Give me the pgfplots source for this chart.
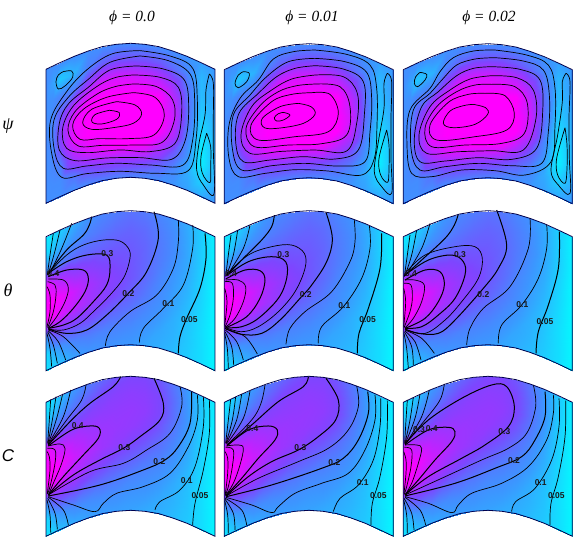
\documentclass[border=0pt]{standalone}
\usepackage{fontspec}
\setmainfont{Liberation Serif}
\newfontfamily\lab{Liberation Sans}
\usepackage{pgfplots}
\usepackage{pgfplotstable}
\pgfplotsset{compat=1.18}

% colour fields on the curved grid (p = psi, t = theta, c = C)
\pgfplotstableread{
x y p t c
0 0 .27 .05 .05
0 50 .27 .08 .10
0 100 .27 .25 .25
0 150 .27 1 1
0 201 .27 1 1
0 251 .27 1 1
0 301 .27 .25 .25
0 352 .27 .08 .08
0 402 .27 .05 .05
21 -10 .27 .08 .10
21 40 .22 .15 .18
21 90 .27 .30 .35
21 140 .30 .80 .85
21 191 .32 1 1
21 241 .30 .95 .95
21 291 .30 .45 .45
21 342 .28 .20 .20
21 392 .27 .10 .10
42 -20 .27 .12 .15
42 30 .13 .20 .25
42 80 .30 .33 .42
42 130 .42 .70 .75
42 181 .55 .95 .95
42 231 .50 .85 .85
42 281 .33 .50 .50
42 332 .28 .25 .25
42 382 .27 .15 .15
85 -39 .27 .20 .25
85 11 .18 .27 .35
85 61 .33 .38 .50
85 111 .72 .60 .70
85 162 .95 .80 .80
85 212 .92 .75 .70
85 262 .68 .50 .48
85 313 .36 .30 .28
85 363 .27 .22 .20
127 -55 .27 .26 .33
127 -5 .32 .32 .43
127 45 .60 .40 .55
127 95 .95 .55 .65
127 146 1 .66 .70
127 196 1 .64 .60
127 246 .85 .48 .42
127 297 .48 .32 .28
127 347 .28 .25 .22
169 -68 .28 .30 .40
169 -18 .42 .35 .50
169 32 .80 .41 .57
169 82 1 .50 .62
169 133 1 .58 .62
169 183 1 .55 .52
169 233 .95 .43 .38
169 284 .55 .31 .28
169 334 .30 .26 .23
211 -75 .28 .33 .46
211 -25 .48 .38 .54
211 25 .85 .43 .58
211 75 1 .48 .60
211 126 1 .52 .57
211 176 1 .48 .45
211 226 1 .38 .34
211 277 .55 .30 .27
211 327 .30 .25 .23
254 -78 .28 .36 .50
254 -28 .48 .40 .56
254 22 .85 .43 .59
254 72 1 .45 .58
254 123 1 .45 .50
254 173 1 .41 .40
254 223 1 .34 .30
254 274 .55 .28 .25
254 324 .30 .24 .22
296 -75 .28 .34 .50
296 -25 .48 .38 .55
296 25 .82 .40 .57
296 75 1 .40 .53
296 126 1 .38 .44
296 176 1 .34 .34
296 226 .95 .29 .28
296 277 .50 .25 .24
296 327 .28 .21 .20
338 -68 .28 .30 .45
338 -18 .45 .33 .50
338 32 .75 .34 .50
338 82 1 .33 .44
338 133 1 .30 .36
338 183 1 .28 .30
338 233 .72 .25 .25
338 284 .42 .21 .21
338 334 .27 .19 .19
380 -55 .27 .26 .35
380 -5 .38 .28 .38
380 45 .60 .28 .37
380 95 .75 .26 .33
380 146 .80 .24 .28
380 196 .70 .22 .24
380 246 .45 .19 .20
380 297 .30 .18 .18
380 347 .25 .16 .16
423 -39 .25 .20 .24
423 11 .30 .21 .25
423 61 .36 .21 .25
423 111 .38 .20 .22
423 162 .36 .18 .20
423 212 .30 .16 .17
423 262 .25 .14 .15
423 313 .20 .13 .14
423 363 .22 .12 .13
465 -20 .22 .12 .13
465 30 .17 .12 .13
465 80 .16 .12 .12
465 130 .13 .11 .11
465 181 .09 .10 .10
465 231 .05 .09 .09
465 281 .04 .08 .08
465 332 .11 .08 .08
465 382 .20 .08 .08
507 0 .25 .03 .03
507 50 .24 .03 .03
507 100 .22 .03 .03
507 150 .20 .02 .02
507 201 .18 .02 .02
507 251 .17 .02 .02
507 301 .18 .02 .02
507 352 .20 .02 .02
507 402 .25 .02 .02
}\field

\pgfplotstableread{
x y
0 0
21 -10
42 -20
85 -39
127 -55
169 -68
211 -75
254 -78
296 -75
338 -68
380 -55
423 -39
465 -20
507 0
507 402
465 382
423 363
380 347
338 334
296 327
254 324
211 327
169 334
127 347
85 363
42 382
21 392
0 402
0 0
}\outline

\pgfplotsset{
  cl/.style={black,line width=.7pt,smooth,tension=.6},
  cb/.style={black,line width=1pt,smooth,tension=.6},
}
\newcommand{\ct}[1]{\addplot[cl] coordinates {#1};}
\newcommand{\cb}[1]{\addplot[cb] coordinates {#1};}
\newcommand{\lb}[2]{\node[font=\lab\bfseries\fontsize{8.5}{9}\selectfont,inner sep=0pt,text=black!90] at (axis cs:#1) {#2};}

% px, pixel of panel top corner, zoom origin x, y, colour column, contours
\newcommand{\panel}[6]{%
  \pgfmathsetmacro\xb{#3+507}
  \pgfmathsetmacro\ya{#4-78}
  \pgfmathsetmacro\yb{#4+402}
  \pgfmathsetmacro\py{546-#2-134}
  \begin{axis}[
    at={(#1pt,\py pt)}, anchor=south west,
    scale only axis, width=169pt, height=160pt,
    xmin=#3, xmax=\xb, ymin=\ya, ymax=\yb, y dir=reverse,
    hide axis, clip=false,
    colormap={cl}{rgb255=(0,255,255) rgb255=(60,150,255) rgb255=(125,70,255) rgb255=(190,35,255) rgb255=(255,0,255)},
    point meta min=0, point meta max=1,
  ]
  \addplot[surf,shader=interp,mesh/rows=9,mesh/cols=14,mesh/ordering=y varies,point meta=explicit]
    table[x expr=\thisrow{x}+#3,y expr=\thisrow{y}+#4,meta=#5] {\field};
  #6
  \addplot[black!70!blue,line width=.8pt] table[x expr=\thisrow{x}+#3,y expr=\thisrow{y}+#4] {\outline};
  \end{axis}
}

\begin{document}
\begin{tikzpicture}[x=1pt,y=1pt]
\path[use as bounding box] (0,0) rectangle (585,546);
\node[font=\fontsize{15.5}{16}\selectfont\itshape] at (132,528.5) {ϕ = 0.0};
\node[font=\fontsize{15.5}{16}\selectfont\itshape] at (312,528.5) {ϕ = 0.01};
\node[font=\fontsize{15.5}{16}\selectfont\itshape] at (489,528.5) {ϕ = 0.02};
\node[font=\fontsize{18}{18}\selectfont\itshape] at (8,420) {ψ};
\node[font=\fontsize{18}{18}\selectfont\itshape] at (8,256) {θ};
\node[font=\lab\fontsize{17}{18}\selectfont\itshape] at (8,90) {C};

% psi row
\panel{46}{69.3}{138}{208}{p}{
\ct{(420,152)(510,168)(578,205)(592,300)(588,420)(565,512)(470,520)(360,514)(260,521)(185,532)(155,460)(152,360)(200,275)(260,210)(335,162)(420,152)}
\ct{(420,168)(505,182)(570,222)(584,300)(578,420)(548,496)(450,495)(350,490)(260,498)(190,505)(163,450)(162,360)(205,292)(265,238)(330,187)(420,168)}
\ct{(410,198)(490,207)(553,240)(566,320)(556,420)(515,478)(420,473)(320,474)(225,482)(178,450)(178,370)(205,312)(265,262)(330,210)(410,198)}
\ct{(400,225)(480,232)(535,262)(545,340)(525,430)(450,455)(360,450)(260,458)(200,445)(188,385)(220,318)(290,260)(345,233)(400,225)}
\ct{(400,252)(470,260)(518,300)(522,365)(485,428)(400,435)(310,436)(235,438)(204,392)(225,335)(290,283)(345,260)(400,252)}
\ct{(400,278)(465,292)(493,345)(462,405)(385,416)(300,416)(240,418)(218,375)(250,328)(320,292)(400,278)}
\ct{(350,305)(405,315)(425,342)(400,370)(340,383)(275,388)(248,368)(275,328)(350,305)}
\ct{(328,331)(358,338)(350,358)(305,372)(276,366)(285,344)(328,331)}
\ct{(190,215)(215,213)(218,232)(195,258)(175,267)(168,245)(175,225)(190,215)}
\ct{(628,222)(640,250)(640,350)(640,450)(642,582)(610,555)(590,510)(597,430)(615,345)(618,270)(628,222)}
\ct{(620,400)(632,440)(632,500)(630,548)(607,520)(603,470)(620,400)}
}
\panel{224.33}{69.7}{28}{104}{p}{
\ct{(300,45)(395,58)(465,90)(485,160)(486,270)(478,370)(440,420)(340,408)(240,404)(150,415)(70,425)(42,370)(42,270)(75,190)(130,135)(175,72)(235,50)(300,45)}
\ct{(300,70)(390,80)(455,112)(470,190)(465,290)(450,380)(370,393)(270,385)(170,392)(80,405)(52,340)(55,240)(105,180)(155,125)(220,80)(300,70)}
\ct{(300,92)(385,102)(445,140)(448,240)(430,345)(360,372)(265,365)(165,375)(85,380)(62,320)(72,235)(130,175)(185,125)(240,100)(300,92)}
\ct{(300,120)(385,125)(427,175)(425,265)(395,348)(300,345)(200,349)(105,355)(78,300)(110,215)(170,165)(230,132)(300,120)}
\ct{(300,147)(375,155)(405,215)(395,300)(320,326)(220,330)(118,335)(93,280)(135,212)(190,170)(245,152)(300,147)}
\ct{(290,173)(345,178)(370,235)(340,290)(240,305)(130,315)(108,270)(170,200)(230,178)(290,173)}
\ct{(250,205)(288,215)(300,238)(265,265)(195,279)(148,278)(142,250)(195,215)(250,205)}
\ct{(205,232)(225,240)(205,255)(185,258)(178,248)(190,236)(205,232)}
\ct{(85,110)(103,115)(95,140)(70,158)(60,145)(70,120)(85,110)}
\ct{(517,115)(530,140)(528,250)(528,370)(530,475)(500,455)(478,410)(490,320)(507,220)(507,145)(517,115)}
\ct{(515,285)(522,330)(522,400)(518,442)(497,420)(492,370)(515,285)}
}
\panel{403.33}{69.7}{25}{104}{p}{
\ct{(300,45)(395,60)(460,90)(480,160)(480,270)(468,380)(390,420)(300,407)(200,405)(110,425)(50,415)(36,330)(45,225)(105,160)(135,110)(175,68)(235,48)(300,45)}
\ct{(300,68)(385,78)(445,105)(463,180)(460,290)(440,385)(350,392)(250,385)(150,395)(75,405)(48,340)(55,225)(105,175)(145,130)(185,90)(240,72)(300,68)}
\ct{(290,95)(375,103)(435,135)(443,230)(425,340)(350,373)(250,368)(150,378)(75,380)(58,310)(80,215)(130,170)(185,122)(235,100)(290,95)}
\ct{(290,122)(365,128)(415,165)(423,250)(385,345)(290,347)(190,350)(95,355)(72,300)(105,215)(165,165)(225,132)(290,122)}
\ct{(290,148)(360,155)(397,205)(388,295)(320,325)(210,330)(110,335)(90,280)(125,215)(185,170)(240,150)(290,148)}
\ct{(270,175)(330,182)(358,235)(335,285)(240,305)(125,315)(105,270)(160,202)(220,178)(270,175)}
\ct{(235,208)(272,218)(278,238)(240,268)(175,278)(145,265)(165,228)(205,212)(235,208)}
\ct{(75,112)(95,118)(90,135)(68,155)(58,145)(62,125)(75,112)}
\ct{(513,115)(525,140)(522,250)(523,370)(525,475)(490,450)(468,405)(488,300)(502,200)(502,140)(513,115)}
\ct{(510,278)(516,330)(516,400)(510,445)(488,420)(485,370)(510,278)}
}

% theta row
\panel{46}{236.7}{138}{95}{t}{
\ct{(142,210)(150,150)(160,85)}
\ct{(144,210)(163,145)(180,75)}
\ct{(146,210)(183,135)(215,55)}
\cb{(275,35)(268,60)(250,90)(200,135)(145,205)}
\ct{(145,205)(200,150)(250,120)(310,105)(360,108)(388,135)(388,170)(370,220)(330,270)(280,320)(240,355)(190,375)(145,372)}
\cb{(145,205)(200,170)(260,150)(320,150)(330,190)(320,240)(280,290)(230,340)(190,360)(145,370)}
\cb{(462,20)(475,100)(440,200)(385,265)(320,330)(260,375)(200,385)(145,372)}
\ct{(316,423)(330,380)(390,320)(470,270)(520,190)(535,110)(535,45)}
\ct{(418,413)(430,370)(490,310)(550,240)(578,130)(578,60)}
\cb{(535,445)(540,395)(560,340)(600,250)(618,160)(615,85)}
\cb{(145,215)(200,195)(250,195)(265,220)(255,260)(220,310)(180,350)(145,370)}
\ct{(145,222)(190,225)(205,250)(195,290)(170,335)(145,368)}
\ct{(143,230)(165,240)(168,270)(160,320)(143,368)}
\ct{(141,245)(150,270)(150,320)(141,365)}
\ct{(145,375)(190,395)(240,445)}
\ct{(145,378)(175,410)(197,465)}
\ct{(143,380)(160,420)(172,475)}
\ct{(141,385)(150,430)(155,485)}
\lb{322,146}{0.3}\lb{385,266}{0.2}\lb{505,296}{0.1}\lb{568,344}{0.05}\lb{160,207}{0.4}
}
\panel{224.33}{236.7}{28}{95}{t}{
\ct{(32,215)(40,150)(48,90)}
\ct{(34,212)(55,150)(68,75)}
\ct{(36,212)(85,130)(105,60)}
\cb{(178,30)(170,65)(140,105)(85,160)(35,212)}
\ct{(35,208)(100,150)(170,125)(230,120)(268,145)(270,190)(240,260)(190,320)(130,365)(80,380)(32,368)}
\cb{(35,212)(100,170)(170,155)(212,170)(215,220)(190,280)(130,340)(80,365)(32,368)}
\cb{(333,22)(352,100)(335,170)(290,240)(255,280)(195,345)(140,385)(80,388)(30,370)}
\ct{(213,418)(225,370)(270,320)(350,260)(405,170)(420,110)(418,45)}
\ct{(310,415)(320,365)(385,305)(440,220)(465,130)(463,62)}
\cb{(427,445)(432,385)(460,310)(495,190)(500,85)}
\cb{(32,222)(90,195)(135,197)(150,225)(135,280)(95,335)(32,368)}
\ct{(32,225)(70,225)(92,245)(85,290)(60,340)(32,366)}
\ct{(30,230)(52,235)(55,280)(45,330)(30,366)}
\ct{(29,250)(36,290)(29,362)}
\ct{(32,372)(90,395)(127,447)}
\ct{(31,375)(65,410)(85,465)}
\ct{(30,380)(50,425)(56,480)}
\ct{(29,385)(37,430)(40,490)}
\lb{205,148}{0.3}\lb{272,268}{0.2}\lb{388,302}{0.1}\lb{458,345}{0.05}\lb{48,207}{0.4}
}
\panel{403.33}{236.7}{25}{95}{t}{
\ct{(28,215)(37,150)(45,90)}
\ct{(30,212)(50,150)(65,75)}
\ct{(32,212)(80,130)(105,55)}
\cb{(190,27)(178,60)(150,100)(80,165)(30,210)}
\ct{(30,205)(90,150)(180,125)(240,125)(262,160)(250,220)(200,290)(150,345)(90,385)(30,372)}
\cb{(30,210)(100,165)(170,150)(205,170)(210,210)(180,280)(130,330)(80,365)(30,370)}
\cb{(305,15)(335,120)(310,190)(265,250)(180,345)(130,385)(70,385)(30,372)}
\ct{(215,420)(225,370)(265,310)(345,245)(400,130)(405,40)}
\ct{(310,415)(320,360)(380,300)(430,220)(455,130)(455,58)}
\cb{(423,445)(430,380)(460,300)(490,190)(493,80)}
\cb{(30,225)(90,195)(135,200)(148,240)(130,290)(90,340)(30,370)}
\ct{(30,225)(60,225)(88,240)(80,290)(55,340)(30,368)}
\ct{(27,235)(48,240)(52,280)(45,320)(27,368)}
\ct{(26,250)(32,290)(26,365)}
\ct{(30,375)(80,400)(118,445)}
\ct{(30,378)(60,410)(78,465)}
\ct{(28,380)(50,425)(55,480)}
\ct{(27,385)(35,430)(40,490)}
\lb{195,150}{0.3}\lb{265,268}{0.2}\lb{382,298}{0.1}\lb{450,350}{0.05}\lb{48,207}{0.4}
}

% C row
\panel{46}{402.3}{138}{97}{c}{
\ct{(143,220)(148,150)(152,88)}
\ct{(144,220)(157,150)(168,80)}
\ct{(145,222)(170,145)(188,72)}
\ct{(145,222)(190,140)(212,60)}
\ct{(145,225)(200,150)(245,90)(258,45)}
\cb{(362,20)(340,50)(270,100)(215,150)(145,225)}
\cb{(145,228)(215,180)(270,168)(298,175)(295,205)(250,255)(190,320)(145,375)}
\ct{(145,228)(180,222)(195,235)(185,280)(160,340)(145,375)}
\ct{(142,235)(165,240)(165,280)(150,350)(142,372)}
\ct{(141,245)(148,260)(150,300)(142,370)}
\cb{(462,25)(490,100)(480,150)(420,200)(370,235)(300,270)(220,315)(145,375)}
\ct{(540,50)(545,110)(510,190)(440,240)(370,280)(270,305)(145,375)}
\cb{(575,65)(570,160)(535,230)(495,270)(430,300)(300,345)(145,378)}
\ct{(592,75)(592,150)(565,230)(510,310)(430,350)(350,370)(310,400)(285,425)(220,405)(145,380)}
\ct{(465,420)(480,395)(540,360)(585,290)(610,170)(610,80)}
\ct{(578,465)(585,400)(610,300)(628,190)(628,90)}
\ct{(145,382)(190,420)(205,465)}
\ct{(143,385)(165,430)(172,478)}
\ct{(141,390)(150,435)(152,488)}
\lb{233,167}{0.4}\lb{373,233}{0.3}\lb{478,275}{0.2}\lb{560,332}{0.1}\lb{600,377}{0.05}
}
\panel{224.33}{402.3}{28}{97}{c}{
\ct{(32,220)(40,150)(47,88)}
\ct{(33,220)(52,150)(62,80)}
\ct{(34,220)(65,150)(80,72)}
\ct{(35,222)(85,145)(105,62)}
\ct{(36,225)(110,150)(138,100)(150,45)}
\cb{(280,20)(265,50)(190,95)(110,165)(36,226)}
\cb{(36,228)(100,180)(160,168)(187,180)(180,210)(130,265)(80,325)(32,378)}
\ct{(34,228)(70,225)(85,235)(75,285)(55,340)(32,376)}
\ct{(32,232)(55,240)(52,290)(40,350)(31,375)}
\ct{(30,245)(38,265)(38,310)(31,372)}
\cb{(333,25)(370,90)(362,150)(310,200)(250,240)(170,275)(100,320)(34,378)}
\ct{(425,48)(430,110)(400,180)(340,235)(250,275)(130,325)(34,378)}
\cb{(458,65)(460,130)(430,210)(385,265)(320,295)(170,345)(34,380)}
\ct{(480,75)(480,150)(450,240)(400,310)(320,340)(240,370)(190,410)(170,428)(110,405)(32,382)}
\ct{(497,85)(495,170)(475,270)(430,345)(375,385)(355,425)}
\ct{(517,92)(515,200)(495,320)(472,400)(468,465)}
\ct{(31,385)(80,420)(95,465)}
\ct{(30,388)(55,430)(60,480)}
\ct{(29,392)(38,435)(40,490)}
\lb{112,175}{0.4}\lb{256,233}{0.3}\lb{358,278}{0.2}\lb{443,338}{0.1}\lb{490,377}{0.05}
}
\panel{403.33}{402.3}{25}{97}{c}{
\ct{(29,220)(33,150)(37,90)}
\ct{(30,220)(45,150)(55,82)}
\ct{(31,220)(60,145)(75,72)}
\ct{(32,222)(80,140)(103,60)}
\ct{(30,222)(90,150)(135,90)(148,42)}
\cb{(30,222)(100,150)(200,85)(290,45)(335,50)(358,110)(340,170)(270,225)(200,265)(100,320)(30,375)}
\cb{(30,225)(100,180)(160,172)(180,185)(170,215)(120,270)(70,330)(30,375)}
\ct{(30,225)(65,225)(80,235)(70,280)(50,340)(30,375)}
\ct{(28,232)(50,240)(48,290)(35,350)(28,372)}
\ct{(26,245)(33,270)(33,310)(27,370)}
\ct{(415,45)(422,110)(395,190)(340,235)(260,270)(140,325)(30,375)}
\cb{(450,65)(450,140)(420,210)(380,260)(300,295)(180,340)(30,378)}
\ct{(475,75)(475,130)(455,210)(400,290)(320,340)(230,370)(190,405)(170,428)(100,400)(30,380)}
\ct{(492,85)(492,170)(470,270)(420,355)(362,395)(350,425)}
\ct{(512,92)(510,200)(490,320)(468,400)(465,465)}
\ct{(30,382)(75,420)(92,465)}
\ct{(27,385)(50,430)(57,480)}
\ct{(26,390)(35,435)(37,490)}
\lb{72,178}{0.3}\lb{110,177}{0.4}\lb{328,185}{0.3}\lb{357,272}{0.2}\lb{437,338}{0.1}\lb{484,377}{0.05}
}
\end{tikzpicture}
\end{document}
